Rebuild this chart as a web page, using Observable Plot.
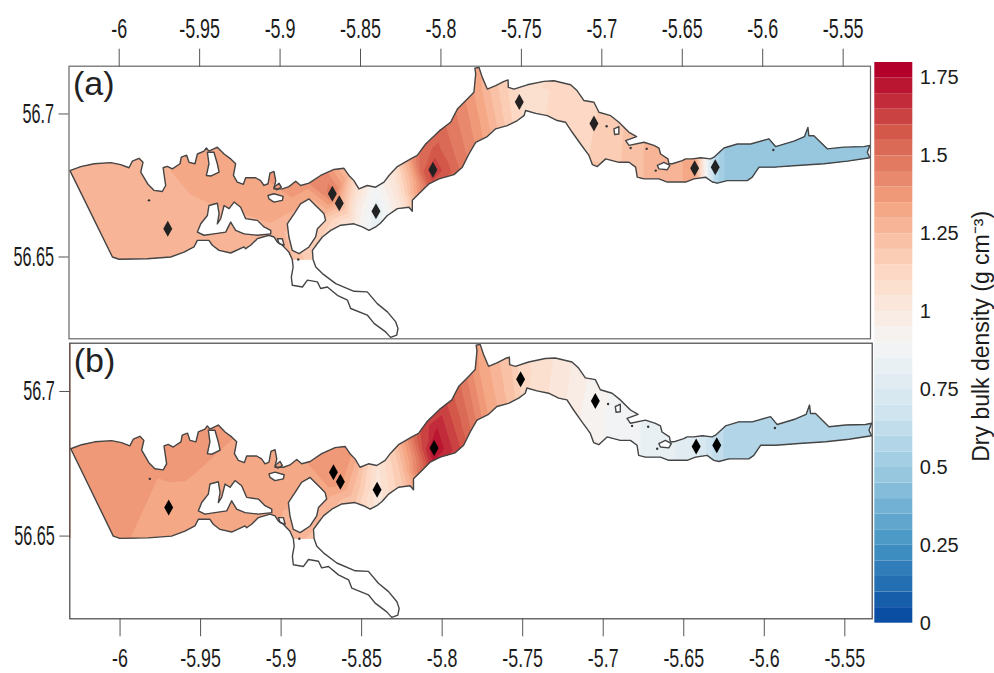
<!DOCTYPE html>
<html>
<head>
<meta charset="utf-8">
<script src="https://cdn.jsdelivr.net/npm/d3@7"></script>
<script src="https://cdn.jsdelivr.net/npm/@observablehq/plot@0.6"></script>
<style>
html,body{margin:0;padding:0;background:#fff}
#chart{position:relative;width:994px;height:673px;overflow:hidden;font-family:"Liberation Sans",Arial,sans-serif}
#chart svg{position:absolute;background:none;font-family:"Liberation Sans",Arial,sans-serif;color:#1c1c1c;overflow:visible}
</style>
</head>
<body>
<div id="chart"></div>
<script>
const lonTicks = [-6,-5.95,-5.9,-5.85,-5.8,-5.75,-5.7,-5.65,-5.6,-5.55];
const latTicks = [56.65,56.7];
const densityTicks = [0,0.25,0.5,0.75,1,1.25,1.5,1.75];
const lonDomain = [-6.0312,-5.5330];
const latDomain = [56.6214,56.7167];

const stationLon = [-5.9698,-5.8675,-5.8632,-5.8404,-5.8050,-5.7513,-5.7049,-5.6423,-5.6295];
const stationLat = [56.6599,56.6721,56.6688,56.6660,56.6805,56.7042,56.6967,56.6810,56.6814];

const northShore = [[-6.0306,56.6802],[-6.0239,56.6816],[-6.0156,56.6826],[-6.0053,56.6830],[-5.9991,56.6823],[-5.9939,56.6812],[-5.9918,56.6835],[-5.9877,56.6845],[-5.9852,56.6831],[-5.9866,56.6797],[-5.9821,56.6754],[-5.9784,56.6733],[-5.9732,56.6729],[-5.9711,56.6750],[-5.9727,56.6812],[-5.9701,56.6817],[-5.9670,56.6808],[-5.9622,56.6826],[-5.9614,56.6849],[-5.9581,56.6856],[-5.9566,56.6831],[-5.9529,56.6826],[-5.9514,56.6860],[-5.9473,56.6870],[-5.9458,56.6881],[-5.9442,56.6870],[-5.9390,56.6884],[-5.9348,56.6860],[-5.9307,56.6843],[-5.9276,56.6826],[-5.9290,56.6785],[-5.9266,56.6762],[-5.9228,56.6754],[-5.9214,56.6777],[-5.9152,56.6777],[-5.9121,56.6767],[-5.9100,56.6750],[-5.9075,56.6756],[-5.9063,56.6793],[-5.9038,56.6799],[-5.9027,56.6767],[-5.9038,56.6738],[-5.8986,56.6738],[-5.8945,56.6746],[-5.8903,56.6765],[-5.8872,56.6750],[-5.8820,56.6758],[-5.8748,56.6785],[-5.8665,56.6806],[-5.8603,56.6810],[-5.8572,56.6785],[-5.8541,56.6767],[-5.8510,56.6738],[-5.8458,56.6750],[-5.8406,56.6744],[-5.8354,56.6762],[-5.8323,56.6785],[-5.8271,56.6816],[-5.8188,56.6843],[-5.8147,56.6855],[-5.8095,56.6895],[-5.8012,56.6940],[-5.7940,56.6971],[-5.7898,56.7017],[-5.7836,56.7052],[-5.7795,56.7076],[-5.7784,56.7140],[-5.7789,56.7160],[-5.7764,56.7163],[-5.7743,56.7128],[-5.7712,56.7087],[-5.7660,56.7099],[-5.7608,56.7114],[-5.7583,56.7119],[-5.7581,56.7093],[-5.7546,56.7087],[-5.7463,56.7102],[-5.7360,56.7114],[-5.7298,56.7116],[-5.7194,56.7102],[-5.7153,56.7081],[-5.7111,56.7047],[-5.7049,56.7041],[-5.7018,56.7006],[-5.6945,56.6994],[-5.6894,56.6971],[-5.6831,56.6936],[-5.6784,56.6921],[-5.6852,56.6907],[-5.6831,56.6890],[-5.6738,56.6901],[-5.6676,56.6890],[-5.6645,56.6881],[-5.6635,56.6860],[-5.6589,56.6843],[-5.6583,56.6826],[-5.6562,56.6826],[-5.6500,56.6837],[-5.6479,56.6843],[-5.6438,56.6843],[-5.6386,56.6847],[-5.6324,56.6843],[-5.6303,56.6849],[-5.6241,56.6881],[-5.6158,56.6895],[-5.6075,56.6895],[-5.5961,56.6913],[-5.5934,56.6895],[-5.5920,56.6886],[-5.5806,56.6905],[-5.5740,56.6921],[-5.5719,56.6953],[-5.5713,56.6924],[-5.5682,56.6924],[-5.5599,56.6878],[-5.5495,56.6884],[-5.5371,56.6886],[-5.5334,56.6890],[-5.5350,56.6866],[-5.5334,56.6847]];
const southShore = [[-5.5474,56.6835],[-5.5619,56.6826],[-5.5785,56.6820],[-5.5930,56.6814],[-5.6023,56.6814],[-5.6065,56.6779],[-5.6096,56.6767],[-5.6220,56.6767],[-5.6282,56.6758],[-5.6313,56.6762],[-5.6355,56.6779],[-5.6427,56.6773],[-5.6479,56.6762],[-5.6593,56.6762],[-5.6645,56.6773],[-5.6738,56.6773],[-5.6780,56.6779],[-5.6790,56.6814],[-5.6831,56.6831],[-5.6894,56.6831],[-5.6976,56.6843],[-5.7028,56.6816],[-5.7059,56.6823],[-5.7080,56.6855],[-5.7132,56.6895],[-5.7184,56.6936],[-5.7225,56.6971],[-5.7277,56.6977],[-5.7339,56.6994],[-5.7411,56.7002],[-5.7474,56.7012],[-5.7484,56.6994],[-5.7525,56.6977],[-5.7588,56.6959],[-5.7660,56.6948],[-5.7712,56.6921],[-5.7784,56.6901],[-5.7826,56.6860],[-5.7867,56.6814],[-5.7919,56.6788],[-5.8012,56.6773],[-5.8074,56.6756],[-5.8126,56.6727],[-5.8178,56.6698],[-5.8178,56.6660],[-5.8199,56.6674],[-5.8271,56.6669],[-5.8333,56.6645],[-5.8375,56.6619],[-5.8406,56.6605],[-5.8447,56.6593],[-5.8489,56.6605],[-5.8541,56.6616],[-5.8623,56.6611],[-5.8685,56.6593],[-5.8737,56.6570],[-5.8768,56.6547],[-5.8799,56.6523],[-5.8795,56.6491]];
const innerArm = [[-5.8778,56.6465],[-5.8737,56.6442],[-5.8654,56.6407],[-5.8540,56.6380],[-5.8458,56.6378],[-5.8396,56.6337],[-5.8333,56.6308],[-5.8281,56.6273],[-5.8267,56.6250],[-5.8275,56.6227],[-5.8313,56.6219],[-5.8344,56.6238],[-5.8416,56.6268],[-5.8458,56.6297],[-5.8561,56.6320],[-5.8581,56.6349],[-5.8644,56.6366],[-5.8706,56.6395],[-5.8748,56.6390],[-5.8768,56.6413],[-5.8830,56.6419],[-5.8861,56.6395],[-5.8924,56.6401],[-5.8930,56.6430],[-5.8919,56.6465]];
const westShore = [[-5.8924,56.6491],[-5.8945,56.6517],[-5.8986,56.6541],[-5.9017,56.6552],[-5.9038,56.6570],[-5.9069,56.6576],[-5.9141,56.6564],[-5.9183,56.6541],[-5.9214,56.6529],[-5.9224,56.6535],[-5.9307,56.6514],[-5.9379,56.6523],[-5.9421,56.6541],[-5.9442,56.6558],[-5.9514,56.6558],[-5.9535,56.6535],[-5.9597,56.6517],[-5.9680,56.6500],[-5.9825,56.6494],[-6.0001,56.6492],[-6.0042,56.6500]];

const islands = [
  [[-5.9514,56.6587],[-5.9493,56.6616],[-5.9452,56.6645],[-5.9442,56.6680],[-5.9390,56.6688],[-5.9379,56.6651],[-5.9390,56.6616],[-5.9369,56.6634],[-5.9348,56.6680],[-5.9317,56.6669],[-5.9286,56.6692],[-5.9245,56.6674],[-5.9214,56.6634],[-5.9141,56.6628],[-5.9100,56.6605],[-5.9058,56.6593],[-5.9058,56.6581],[-5.9141,56.6576],[-5.9224,56.6581],[-5.9276,56.6593],[-5.9307,56.6622],[-5.9338,56.6587],[-5.9411,56.6581],[-5.9473,56.6576]],
  [[-5.8955,56.6616],[-5.8913,56.6651],[-5.8873,56.6686],[-5.8820,56.6703],[-5.8768,56.6674],[-5.8727,56.6651],[-5.8717,56.6628],[-5.8768,56.6599],[-5.8779,56.6570],[-5.8820,56.6535],[-5.8882,56.6512],[-5.8924,56.6523],[-5.8945,56.6570]],
  [[-5.9458,56.6785],[-5.9442,56.6826],[-5.9452,56.6866],[-5.9411,56.6866],[-5.9390,56.6826],[-5.9379,56.6797],[-5.9431,56.6783]],
  [[-5.9075,56.6715],[-5.9038,56.6721],[-5.8981,56.6712],[-5.8986,56.6698],[-5.9038,56.6692],[-5.9069,56.6703]],
  [[-5.9038,56.6744],[-5.9007,56.6758],[-5.8992,56.6744],[-5.9021,56.6735]],
  [[-5.9017,56.6564],[-5.8986,56.6564],[-5.8975,56.6541],[-5.9006,56.6547]],
  [[-5.6655,56.6820],[-5.6614,56.6831],[-5.6577,56.6820],[-5.6593,56.6805],[-5.6645,56.6808]],
  [[-5.6925,56.6948],[-5.6894,56.6956],[-5.6894,56.6930],[-5.6920,56.6928]]
];
const speckLon = [-5.9815,-5.8887,-5.6970,-5.6821,-5.6721,-5.6665,-5.5934];
const speckLat = [56.6698,56.6491,56.6957,56.6881,56.6878,56.6802,56.6874];

// densities at points along the loch
const sampleLon = [-6.04,-6.04,-5.99,-5.993,-5.97,-5.929,-5.968,-5.956,-5.945,-5.945,
  -5.91,-5.906,-5.89,-5.885,-5.875,-5.867,-5.863,-5.873,-5.88,-5.856,-5.852,-5.853,-5.84,-5.84,-5.84,
  -5.830,-5.8265,-5.823,-5.822,-5.8175,-5.813,-5.815,-5.810,
  -5.805,-5.8033,-5.797,-5.806,-5.8115,
  -5.7971,-5.7925,-5.7878,-5.7867,-5.7836,-5.7805,-5.7774,-5.7743,-5.7712,-5.778,
  -5.767,-5.7645,-5.7619,-5.7577,-5.7561,-5.7546,-5.7513,-5.7501,-5.749,
  -5.7463,-5.7463,-5.7256,-5.7298,-5.7049,-5.7111,-5.6862,-5.6883,-5.6655,-5.6655,
  -5.6417,-5.6417,-5.6375,-5.6375,-5.6334,-5.6334,-5.6295,-5.6295,-5.622,-5.622,-5.53,-5.53];
const sampleLat = [56.70,56.64,56.69,56.65,56.66,56.684,56.68,56.672,56.669,56.65,
  56.675,56.662,56.648,56.676,56.682,56.672,56.669,56.664,56.652,56.68,56.668,56.661,56.666,56.676,56.656,
  56.681,56.6725,56.664,56.686,56.677,56.668,56.689,56.672,
  56.6805,56.6878,56.680,56.674,56.680,
  56.6959,56.6875,56.6791,56.7035,56.6953,56.6872,56.7087,56.6997,56.6907,56.72,
  56.7105,56.7026,56.6948,56.7116,56.7046,56.6977,56.7135,56.7057,56.698,
  56.7116,56.6994,56.7128,56.6965,56.7058,56.6872,56.6965,56.6814,56.6907,56.6756,
  56.6861,56.675,56.6861,56.6756,56.6861,56.6756,56.687,56.6745,56.6905,56.6745,56.70,56.68];
const densityA = [1.27,1.27,1.28,1.27,1.28,1.33,1.30,1.30,1.30,1.27,
  1.34,1.30,1.24,1.38,1.42,1.47,1.30,1.22,1.15,1.22,1.0,0.98,0.80,0.9,0.82,
  1.05,1.05,1.05,1.3,1.3,1.3,1.47,1.47,
  1.65,1.57,1.58,1.57,1.54,
  1.5,1.5,1.5,1.42,1.42,1.42,1.33,1.33,1.33,1.33,
  1.22,1.22,1.22,1.14,1.14,1.14,1.09,1.09,1.09,
  1.08,1.08,1.11,1.11,1.14,1.14,1.2,1.2,1.28,1.28,
  1.31,1.31,1.05,1.05,0.78,0.78,0.58,0.58,0.475,0.475,0.475,0.475];
const densityB = [1.40,1.40,1.38,1.35,1.335,1.35,1.37,1.355,1.33,1.32,
  1.32,1.32,1.27,1.35,1.37,1.40,1.37,1.32,1.25,1.36,1.22,1.18,1.02,1.05,1.02,
  1.2,1.2,1.2,1.42,1.42,1.42,1.58,1.58,
  1.77,1.7,1.68,1.68,1.62,
  1.6,1.6,1.6,1.48,1.48,1.48,1.35,1.35,1.35,1.35,
  1.27,1.27,1.27,1.2,1.2,1.2,1.12,1.12,1.12,
  1.10,1.10,1.03,1.03,0.93,0.93,0.87,0.87,0.83,0.83,
  0.76,0.76,0.72,0.72,0.66,0.66,0.63,0.63,0.575,0.575,0.575,0.575];

const bandLows = d3.range(0,36).map(i => +(i*0.05).toFixed(2));
const bandColors = d3.quantize(d3.piecewise(d3.interpolateRgb,
  ["#0a4ea3","#4393c3","#92c5de","#d1e5f0","#f5f5f5","#fddbc7","#f4a582","#d6604d","#b2002a"]), 36);
const colorScale = {type:"threshold", domain: bandLows.slice(1), range: bandColors};

const coast = [...northShore, ...southShore, ...innerArm, ...westShore, northShore[0]];
const waterRings = [[...northShore, ...southShore, ...westShore], ...islands];
const outlineRows = [coast, ...islands.map(r => [...r, r[0]])]
  .flatMap((r,i) => r.map(p => ({lon:p[0], lat:p[1], ring:i})));
const stations = stationLon.map((lon,i) => ({lon, lat:stationLat[i]}));
const specks = speckLon.map((lon,i) => ({lon, lat:speckLat[i]}));

const tallDiamond = {draw(ctx,size){
  const r = Math.sqrt(size/Math.PI);
  ctx.moveTo(0,-r); ctx.lineTo(r*0.56,0); ctx.lineTo(0,r); ctx.lineTo(-r*0.56,0); ctx.closePath();
}};

let clipCount = 0;
function clipToWater(index, scales, values, dims, ctx, next){
  const g = next(index, scales, values, dims, ctx);
  const line = d3.line().x(d => scales.x(d[0])).y(d => scales.y(d[1]));
  const id = "water-" + (++clipCount);
  const ns = "http://www.w3.org/2000/svg";
  const wrap = document.createElementNS(ns,"g");
  const cp = document.createElementNS(ns,"clipPath");
  cp.setAttribute("id",id);
  const path = document.createElementNS(ns,"path");
  path.setAttribute("d", waterRings.map(r => line(r)+"Z").join(""));
  path.setAttribute("clip-rule","evenodd");
  cp.appendChild(path);
  wrap.appendChild(cp);
  wrap.appendChild(g);
  g.setAttribute("clip-path",`url(#${id})`);
  return wrap;
}

function panel({values, label, top, anchor, height, margins, frameColor, diamond, extra=[]}){
  const samples = sampleLon.map((lon,i) => ({lon, lat:sampleLat[i], v:values[i]}));
  const plot = Plot.plot({
    width:874, height, ...margins,
    x:{domain:lonDomain}, y:{domain:latDomain},
    color:colorScale,
    marks:[
      Plot.contour(samples,{x:"lon",y:"lat",fill:"v",stroke:"none",interpolate:"barycentric",
        thresholds:bandLows,pixelSize:1,render:clipToWater}),
      ...extra,
      Plot.line(outlineRows,{x:"lon",y:"lat",z:"ring",stroke:"#454545",strokeWidth:1.4,strokeLinejoin:"round"}),
      Plot.dot(specks,{x:"lon",y:"lat",r:1.2,fill:"#333",stroke:"none"}),
      Plot.dot(stations,{x:"lon",y:"lat",symbol:tallDiamond,r:8,fill:diamond,stroke:"none"}),
      Plot.frame({stroke:frameColor,strokeWidth:1.2}),
      Plot.axisX({anchor,ticks:lonTicks,tickFormat:d=>String(d),tickSize:18,tickPadding:anchor==="top"?10:12.2,fontSize:anchor==="top"?28:25.5,label:null,stroke:"#555"}),
      Plot.axisY({anchor:"left",ticks:latTicks,tickFormat:d=>String(d),tickSize:10,tickPadding:5,fontSize:28,label:null,stroke:"#555"}),
      Plot.text([label],{text:d=>d,frameAnchor:"top-left",dx:4,dy:5,fontSize:34,lineAnchor:"top",fill:"#222"})
    ]
  });
  plot.style.left = "0px";
  plot.style.top = top+"px";
  return plot;
}

const chart = document.getElementById("chart");
const panelA = panel({values:densityA,label:"(a)",top:0,anchor:"top",height:340,
  margins:{marginLeft:68.5,marginRight:4,marginTop:65.7,marginBottom:1.7},frameColor:"#666",diamond:"#222"});
const panelB = panel({values:densityB,label:"(b)",top:340,anchor:"bottom",height:333,
  margins:{marginLeft:69.3,marginRight:2.3,marginTop:2.7,marginBottom:54.7},frameColor:"#444",diamond:"#000",
  extra:[Plot.ruleX([lonDomain[0]],{y1:56.6492,y2:latDomain[1],stroke:"#f0a080",strokeWidth:1.6})]});

const bands = bandLows.map(low => ({low, high:low+0.05}));
const legend = Plot.plot({
  width:134, height:590,
  marginLeft:14.3, marginRight:81.7, marginTop:12, marginBottom:17.3,
  x:{domain:[0,1],axis:null},
  y:{domain:[0,1.8]},
  color:colorScale,
  marks:[
    Plot.rect(bands,{x1:()=>0,x2:()=>1,y1:"low",y2:"high",fill:"low"}),
    Plot.axisY({anchor:"right",ticks:densityTicks,tickFormat:d=>String(d),tickSize:0,tickPadding:7,fontSize:20,label:null}),
    Plot.text(["Dry bulk density (g cm⁻³)"],{text:d=>d,frameAnchor:"right",textAnchor:"middle",rotate:-90,dx:69,dy:-6.5,fontSize:23,fill:"#1c1c1c"})
  ]
});
legend.style.left = "860px";
legend.style.top = "50px";

chart.append(panelA,panelB,legend);

panelA.querySelectorAll('g[aria-label="x-axis tick label"] text').forEach(t => {
  t.setAttribute("transform",(t.getAttribute("transform")||"")+" scale(0.64,1)");
});
panelB.querySelectorAll('g[aria-label="x-axis tick label"] text').forEach(t => {
  t.setAttribute("transform",(t.getAttribute("transform")||"")+" scale(0.7,1)");
});
for (const svg of [panelA,panelB]) {
  svg.querySelectorAll('g[aria-label="y-axis tick label"] text').forEach(t => {
    t.setAttribute("transform",(t.getAttribute("transform")||"")+" scale(0.58,1)");
  });
}
</script>
</body>
</html>
